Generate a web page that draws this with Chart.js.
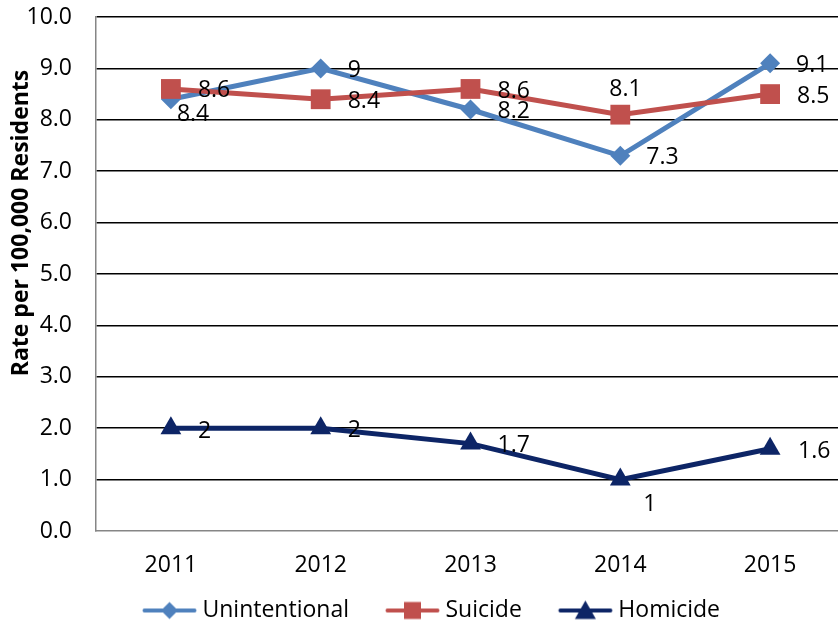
<!DOCTYPE html>
<html>
<head>
<meta charset="utf-8">
<title>Injury death rates</title>
<script src="https://cdn.jsdelivr.net/npm/chart.js@4.4.1/dist/chart.umd.min.js"></script>
<style>
  html, body { margin: 0; padding: 0; background: #fff; overflow: hidden; }
  #wrap { position: relative; width: 845px; height: 632px; }
</style>
</head>
<body>
<div id="wrap"><canvas id="rateChart"></canvas></div>
<script>
const years = ['2011', '2012', '2013', '2014', '2015'];
const unintentional = [8.4, 9, 8.2, 7.3, 9.1];
const suicide = [8.6, 8.4, 8.6, 8.1, 8.5];
const homicide = [2, 2, 1.7, 1, 1.6];

const yMin = 0;
const yMax = 10;
const yStep = 1;

const FONT = "'Open Sans', 'Liberation Sans', sans-serif";

// where each value label sits relative to its point: [dx to left edge, dy to middle]
const labelOffsets = {
    Unintentional: [[6, 15], [27, 2], [27, 2], [26, 2], [26, 2]],
    Suicide: [[27, 1], [27, 2], [27, 2], [-11, -25], [27, 2]],
    Homicide: [[27, 3], [27, 2], [27, 2], [23, 25], [28, 3]]
};

const seriesStyle = {
    Unintentional: { color: '#4F81BD', marker: 'diamond' },
    Suicide: { color: '#C0504D', marker: 'square' },
    Homicide: { color: '#0D2566', marker: 'triangle' }
};

function drawMarker(ctx, kind, x, y, size) {
    ctx.beginPath();
    if (kind === 'diamond') {
        ctx.moveTo(x, y - size);
        ctx.lineTo(x + size, y);
        ctx.lineTo(x, y + size);
        ctx.lineTo(x - size, y);
    } else if (kind === 'square') {
        ctx.rect(x - size, y - size, size * 2, size * 2);
    } else {
        ctx.moveTo(x, y - size);
        ctx.lineTo(x + size * 1.05, y + size * 0.85);
        ctx.lineTo(x - size * 1.05, y + size * 0.85);
    }
    ctx.closePath();
    ctx.fill();
}

// line + marker swatch for the legend; the swatch sits in the right part
// of a wider transparent canvas so the text follows it closely
function legendIcon(name) {
    const st = seriesStyle[name];
    const c = document.createElement('canvas');
    c.width = 80;
    c.height = 22;
    const g = c.getContext('2d');
    const x0 = 23.5;
    g.strokeStyle = st.color;
    g.fillStyle = st.color;
    g.lineWidth = 4;
    g.lineCap = 'round';
    g.beginPath();
    g.moveTo(x0 + 3, 11);
    g.lineTo(x0 + 53, 11);
    g.stroke();
    const size = st.marker === 'triangle' ? 10 : 8.5;
    drawMarker(g, st.marker, x0 + 28, 11, size);
    return c;
}

const valueLabels = {
    id: 'valueLabels',
    afterDatasetsDraw(chart) {
        const ctx = chart.ctx;
        ctx.save();
        ctx.font = '23px ' + FONT;
        ctx.fillStyle = '#000';
        ctx.textAlign = 'left';
        ctx.textBaseline = 'middle';
        chart.data.datasets.forEach((ds, i) => {
            const meta = chart.getDatasetMeta(i);
            const offs = labelOffsets[ds.label];
            meta.data.forEach((pt, j) => {
                const [dx, dy] = offs[j];
                ctx.fillText(String(ds.data[j]), pt.x + dx, pt.y + dy);
            });
        });
        ctx.restore();
    }
};

const axisTitle = {
    id: 'axisTitle',
    afterDraw(chart) {
        const ctx = chart.ctx;
        ctx.save();
        ctx.translate(21, 223);
        ctx.rotate(-Math.PI / 2);
        ctx.font = 'bold 23px ' + FONT;
        ctx.fillStyle = '#000';
        ctx.textAlign = 'center';
        ctx.textBaseline = 'middle';
        ctx.fillText('Rate per 100,000 Residents', 0, 0);
        ctx.restore();
    }
};

function makeDataset(name, values, order, radius) {
    const st = seriesStyle[name];
    const pointStyle = { diamond: 'rectRot', square: 'rect', triangle: 'triangle' }[st.marker];
    return {
        label: name,
        data: values,
        borderColor: st.color,
        backgroundColor: st.color,
        borderWidth: 5,
        pointStyle: pointStyle,
        pointRadius: radius,
        pointBorderWidth: 0,
        pointBackgroundColor: st.color,
        tension: 0,
        order: order
    };
}

Chart.defaults.font.family = FONT;
Chart.defaults.font.size = 23;
Chart.defaults.color = '#000';

const ctx = document.getElementById('rateChart').getContext('2d');
new Chart(ctx, {
    type: 'line',
    data: {
        labels: years,
        datasets: [
            makeDataset('Unintentional', unintentional, 3, 10),
            makeDataset('Suicide', suicide, 2, 14),
            makeDataset('Homicide', homicide, 1, 12)
        ]
    },
    options: {
        responsive: true,
        maintainAspectRatio: false,
        animation: false,
        layout: { padding: 0, autoPadding: false },
        plugins: {
            tooltip: { enabled: false },
            legend: {
                position: 'bottom',
                labels: {
                    usePointStyle: true,
                    pointStyleWidth: 66,
                    padding: 19,
                    color: '#000',
                    font: { size: 23 },
                    sort: (a, b) => a.datasetIndex - b.datasetIndex,
                    generateLabels: (chart) => chart.data.datasets.map((ds, i) => ({
                        text: ds.label,
                        pointStyle: legendIcon(ds.label),
                        fillStyle: ds.borderColor,
                        strokeStyle: ds.borderColor,
                        lineWidth: 0,
                        hidden: false,
                        datasetIndex: i
                    }))
                }
            }
        },
        scales: {
            x: {
                offset: true,
                grid: { display: false, drawTicks: false },
                border: { color: '#868686', width: 1.5 },
                ticks: { padding: 21, font: { size: 23 }, color: '#000' },
                afterFit: (scale) => {
                    scale.height = 49;
                    scale.paddingLeft = 0;
                    scale.paddingRight = 0;
                }
            },
            y: {
                min: yMin,
                max: yMax,
                grid: {
                    drawTicks: false,
                    color: (c) => (c.tick && c.tick.value === yMin ? 'rgba(0,0,0,0)' : '#000'),
                    lineWidth: 1.5
                },
                border: { color: '#868686', width: 1.5 },
                ticks: {
                    stepSize: yStep,
                    padding: 24,
                    font: { size: 23 },
                    color: '#000',
                    callback: (v) => v.toFixed(1)
                },
                afterFit: (scale) => {
                    scale.width = 96;
                    scale.paddingTop = 17;
                    scale.paddingBottom = 14;
                }
            }
        }
    },
    plugins: [valueLabels, axisTitle]
});
</script>
</body>
</html>
